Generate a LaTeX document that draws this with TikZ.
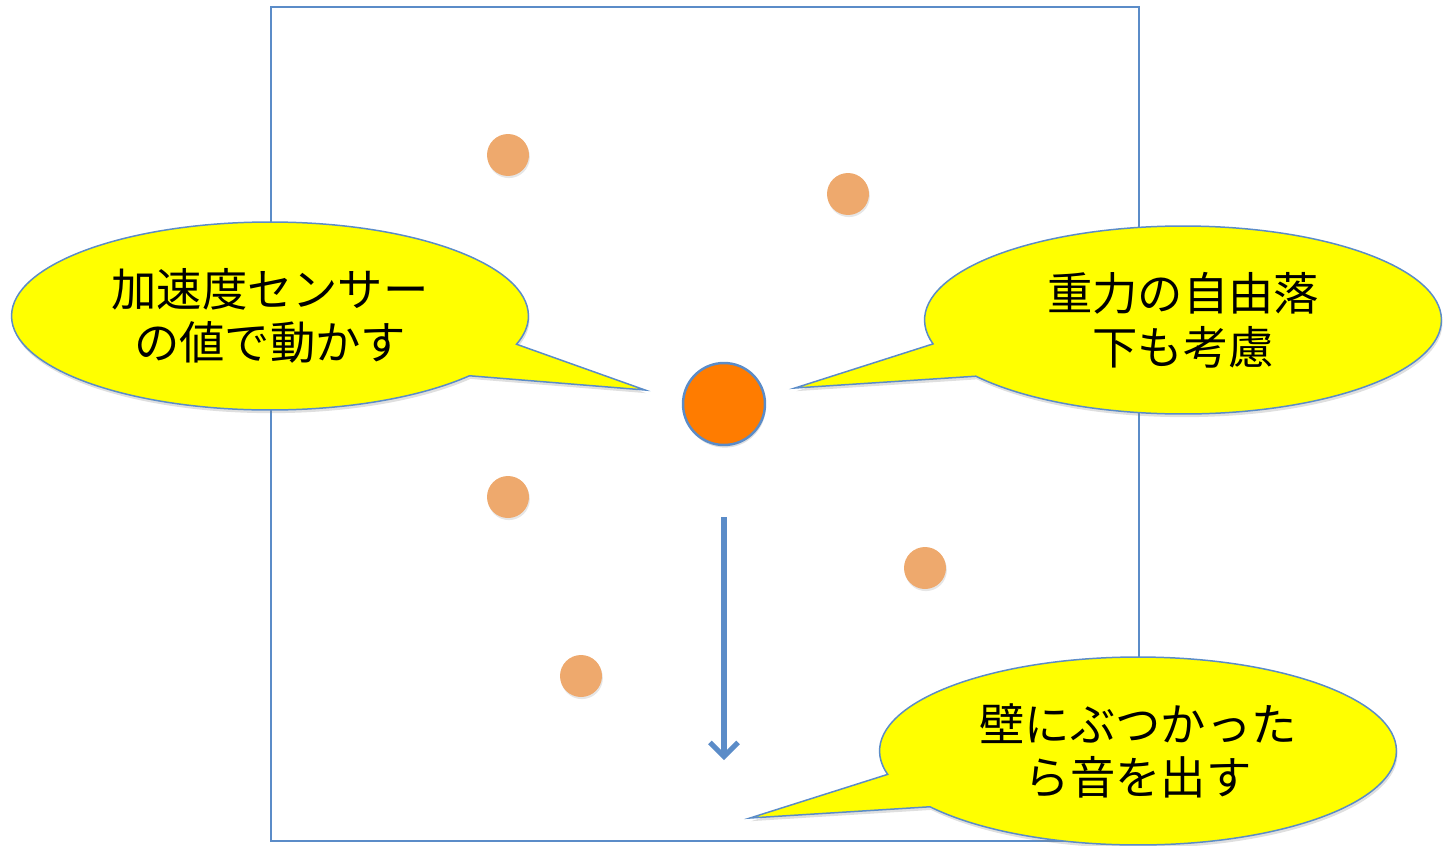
\documentclass[tikz,border=0pt]{standalone}
\usepackage{fontspec}
\setmainfont{Noto Sans CJK JP}
\usetikzlibrary{shapes.callouts,shadows,arrows.meta}
\definecolor{lineblue}{HTML}{5B8CC8}
\definecolor{bubbleyellow}{HTML}{FFFF00}
\definecolor{ballorange}{HTML}{FF7C00}
\definecolor{dotorange}{HTML}{EEA96D}
\begin{document}
\begin{tikzpicture}[x=0.02cm,y=-0.02cm,
    bubble/.style={ellipse callout,draw=lineblue,line width=0.85pt,fill=bubbleyellow,
      minimum width=10.34cm,minimum height=3.76cm,inner sep=0pt,align=center,
      callout pointer arc=22,font={\fontsize{25.8pt}{30.6pt}\selectfont},
      drop shadow={shadow xshift=0.6pt,shadow yshift=-1.8pt,opacity=0.25}},
    ball/.style={circle,fill=dotorange,minimum size=0.84cm,inner sep=0pt,
      drop shadow={shadow xshift=0.5pt,shadow yshift=-1.2pt,opacity=0.2}},
    bigball/.style={circle,draw=lineblue,line width=1.4pt,fill=ballorange,
      minimum size=1.64cm,inner sep=0pt,
      drop shadow={shadow xshift=0.5pt,shadow yshift=-1.5pt,opacity=0.25}}]
    \useasboundingbox (0,0) rectangle (1443,845);
    % the box
    \draw[lineblue,line width=0.85pt] (271,7) rectangle (1139,841);
    % balls
    \node[ball] (d1) at (508,155) {};
    \node[ball] (d2) at (848,194) {};
    \node[ball] (d3) at (508,497) {};
    \node[ball] (d4) at (925,568) {};
    \node[ball] (d5) at (581,676) {};
    \node[bigball] (main) at (724,404) {};
    % falling direction
    \coordinate (fallTop) at (724,517);
    \coordinate (fallEnd) at (724,760);
    \draw[lineblue,line width=2.9pt,-{Straight Barb[length=8pt,width=16pt]}] (fallTop) -- (fallEnd);
    % speech bubbles
    \coordinate (tipL) at (645,390);
    \coordinate (tipR) at (795,388);
    \coordinate (tipB) at (750,818);
    \node[bubble,callout absolute pointer={(tipL)}] (sensor) at (270,316) {加速度センサー\\の値で動かす};
    \node[bubble,callout absolute pointer={(tipR)}] (gravity) at (1183,320) {重力の自由落\\下も考慮};
    \node[bubble,callout absolute pointer={(tipB)}] (sound) at (1138,751) {壁にぶつかった\\ら音を出す};
  \end{tikzpicture}
\end{document}
